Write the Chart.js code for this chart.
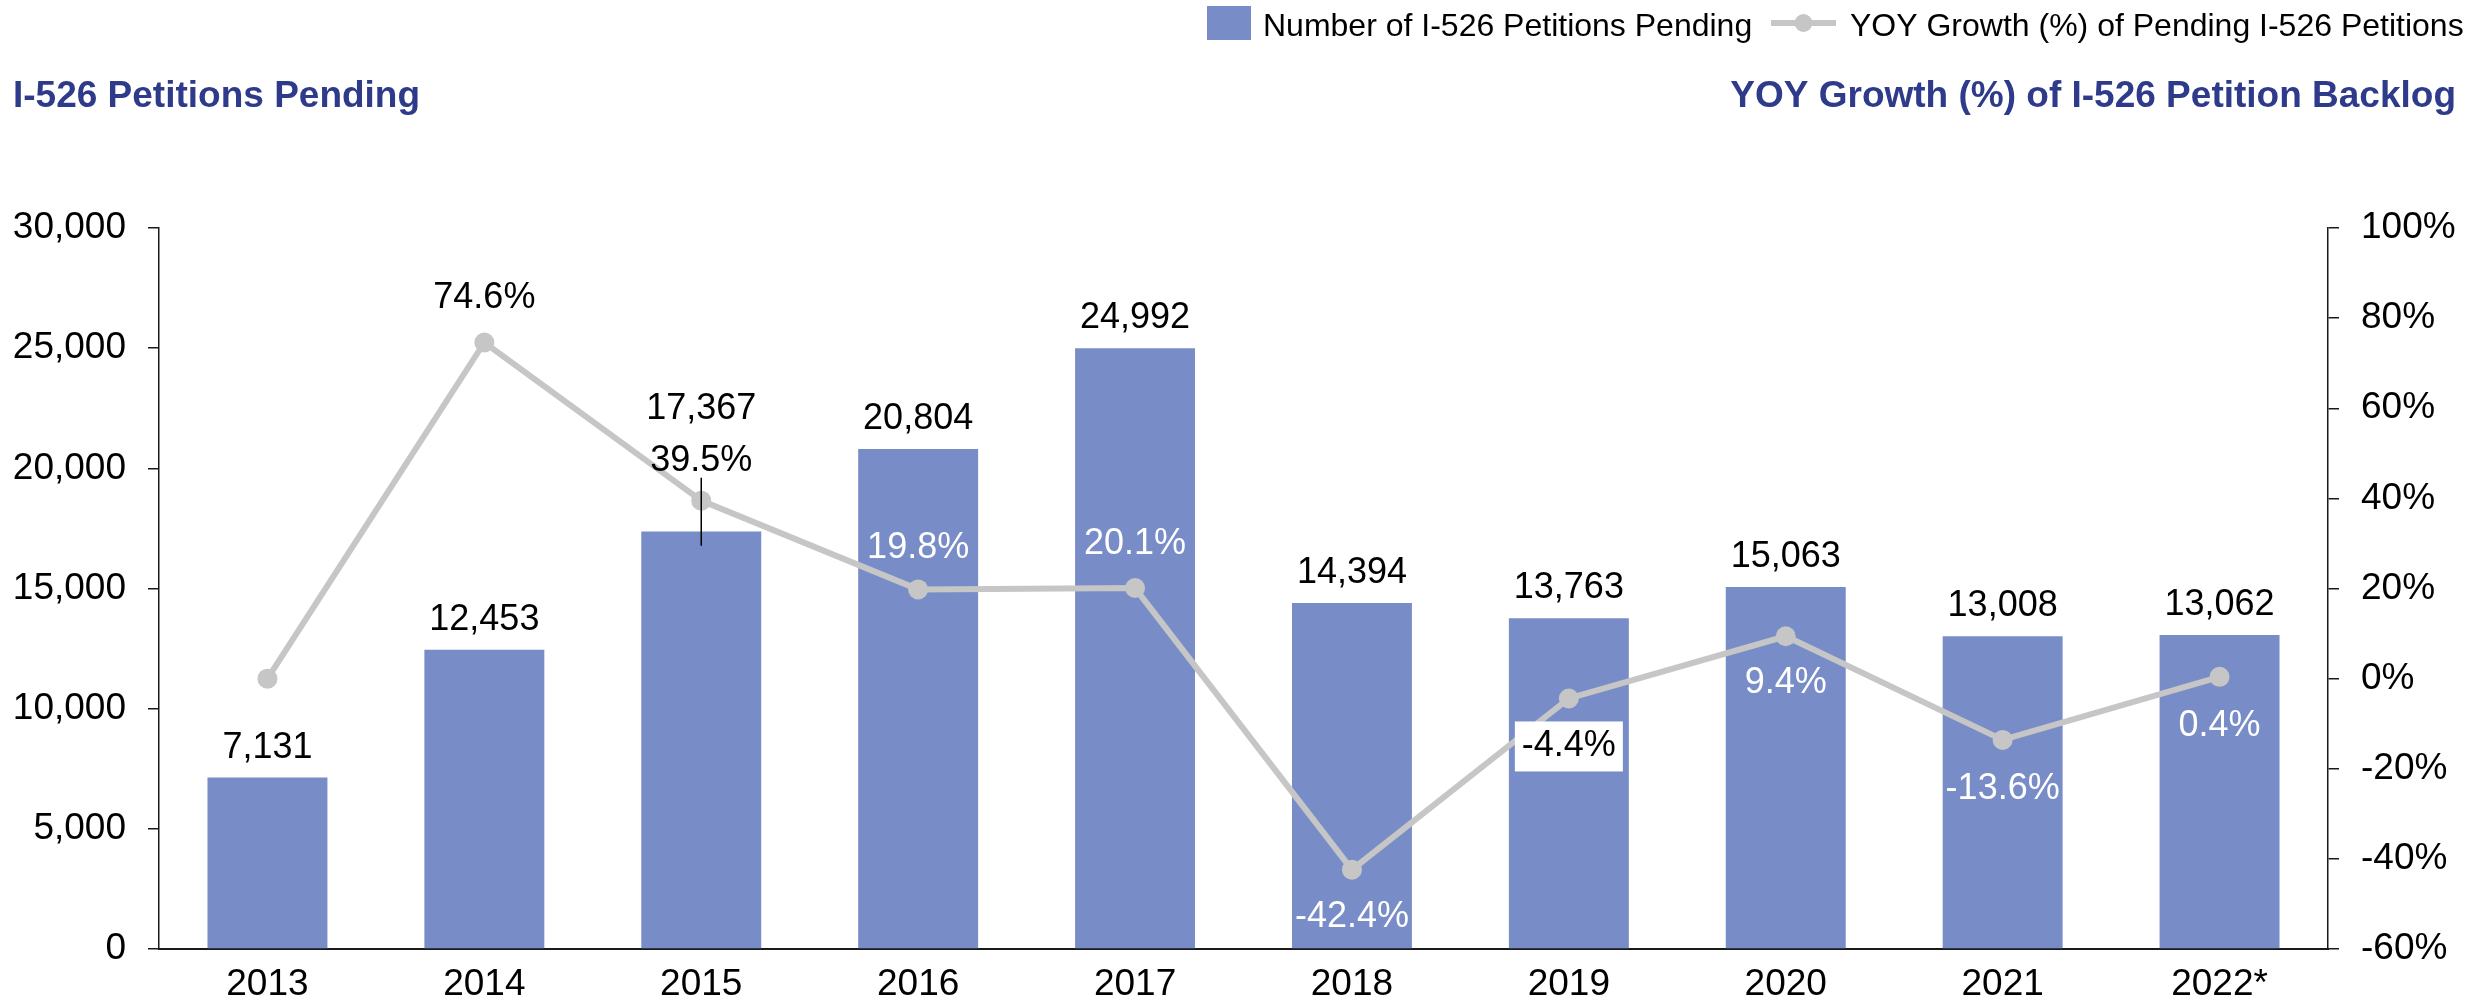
<!DOCTYPE html>
<html>
<head>
<meta charset="utf-8">
<title>I-526 Petitions Pending</title>
<script src="https://cdn.jsdelivr.net/npm/chart.js@4.4.1/dist/chart.umd.min.js"></script>
<style>
  html, body { margin: 0; padding: 0; background: #fff; }
  #wrap { width: 2481px; height: 1003px; position: relative; }
</style>
</head>
<body>
<div id="wrap"><canvas id="chart" width="2481" height="1003"></canvas></div>
<script>
// --- data ---
const years = ['2013', '2014', '2015', '2016', '2017', '2018', '2019', '2020', '2021', '2022*'];
const pendingPetitions = [7131, 12453, 17367, 20804, 24992, 14394, 13763, 15063, 13008, 13062];
const yoyGrowth = [0, 74.6, 39.5, 19.8, 20.1, -42.4, -4.4, 9.4, -13.6, 0.4];

const leftTicks = [0, 5000, 10000, 15000, 20000, 25000, 30000];
const rightTicks = [-60, -40, -20, 0, 20, 40, 60, 80, 100];

const BAR_COLOR = '#788cc7';
const LINE_COLOR = '#c6c6c6';
const TITLE_COLOR = '#2e3a8a';
const FONT = "'Liberation Sans', Arial, sans-serif";

// label placement (style only): offset of text centre from the mark, and colour
const barLabelOffset = i => (i === 2 ? -123 : -30);
const lineLabelStyle = [
  null,
  { dy: -44, color: '#000' },
  { dy: -40, color: '#000', leader: true },
  { dy: -41, color: '#fff' },
  { dy: -44, color: '#fff' },
  { dy: 47, color: '#fff' },
  { dy: 48, color: '#000', box: true },
  { dy: 47, color: '#fff' },
  { dy: 49, color: '#fff' },
  { dy: 49, color: '#fff' }
];

const fmtNum = v => v.toLocaleString('en-US');
const fmtPct = v => v.toFixed(1) + '%';

// Titles, legend and data labels
const decorPlugin = {
  id: 'decor',
  afterDraw(chart) {
    const ctx = chart.ctx;
    ctx.save();

    // axis titles
    ctx.fillStyle = TITLE_COLOR;
    ctx.font = `bold 37px ${FONT}`;
    ctx.textBaseline = 'alphabetic';
    ctx.textAlign = 'left';
    ctx.fillText('I-526 Petitions Pending', 13, 107);
    ctx.textAlign = 'right';
    ctx.fillText('YOY Growth (%) of I-526 Petition Backlog', 2456, 107);

    // legend
    ctx.fillStyle = BAR_COLOR;
    ctx.fillRect(1207, 6, 44, 34);
    ctx.fillStyle = '#000';
    ctx.font = `32px ${FONT}`;
    ctx.textAlign = 'left';
    ctx.fillText('Number of I-526 Petitions Pending', 1263, 36);
    ctx.strokeStyle = LINE_COLOR;
    ctx.lineWidth = 6;
    ctx.beginPath();
    ctx.moveTo(1771, 23);
    ctx.lineTo(1836, 23);
    ctx.stroke();
    ctx.fillStyle = LINE_COLOR;
    ctx.beginPath();
    ctx.arc(1803.5, 23, 9, 0, Math.PI * 2);
    ctx.fill();
    ctx.fillStyle = '#000';
    ctx.fillText('YOY Growth (%) of Pending I-526 Petitions', 1850, 36);

    // bar value labels
    ctx.font = `36px ${FONT}`;
    ctx.textAlign = 'center';
    ctx.textBaseline = 'middle';
    const barMeta = chart.getDatasetMeta(1);
    barMeta.data.forEach((bar, i) => {
      ctx.fillStyle = '#000';
      ctx.fillText(fmtNum(pendingPetitions[i]), bar.x, bar.y + barLabelOffset(i));
    });

    // line value labels
    const lineMeta = chart.getDatasetMeta(0);
    lineMeta.data.forEach((pt, i) => {
      const st = lineLabelStyle[i];
      if (!st) return;
      const text = fmtPct(yoyGrowth[i]);
      const y = pt.y + st.dy;
      if (st.leader) {
        ctx.strokeStyle = '#000';
        ctx.lineWidth = 1.5;
        ctx.beginPath();
        ctx.moveTo(pt.x, pt.y - 23);
        ctx.lineTo(pt.x, pt.y + 45);
        ctx.stroke();
      }
      if (st.box) {
        ctx.fillStyle = '#fff';
        ctx.fillRect(pt.x - 54, y - 25, 108, 50);
      }
      ctx.fillStyle = st.color;
      ctx.fillText(text, pt.x, y);
    });

    ctx.restore();
  }
};

new Chart(document.getElementById('chart'), {
  data: {
    labels: years,
    datasets: [
      {
        type: 'line',
        label: 'YOY Growth (%) of Pending I-526 Petitions',
        data: yoyGrowth,
        yAxisID: 'y1',
        borderColor: LINE_COLOR,
        backgroundColor: LINE_COLOR,
        borderWidth: 6,
        pointRadius: 10,
        pointHoverRadius: 10,
        pointBackgroundColor: LINE_COLOR,
        pointBorderWidth: 0,
        tension: 0,
        order: 0
      },
      {
        type: 'bar',
        label: 'Number of I-526 Petitions Pending',
        data: pendingPetitions,
        yAxisID: 'y',
        backgroundColor: BAR_COLOR,
        barPercentage: 0.553,
        categoryPercentage: 1.0,
        order: 1
      }
    ]
  },
  options: {
    responsive: false,
    animation: false,
    devicePixelRatio: 1,
    layout: { padding: { top: 228, left: 0, right: 0, bottom: 0 } },
    plugins: {
      legend: { display: false },
      tooltip: { enabled: false }
    },
    scales: {
      x: {
        grid: { display: false, drawTicks: false },
        border: { display: true, color: '#1a1a1a', width: 2 },
        ticks: { color: '#000', font: { family: FONT, size: 37 }, padding: 14, maxRotation: 0 },
        afterFit: s => { s.height = 54; }
      },
      y: {
        position: 'left',
        min: 0,
        max: 30000,
        afterBuildTicks: s => { s.ticks = leftTicks.map(v => ({ value: v })); },
        grid: { drawOnChartArea: false, drawTicks: true, tickLength: 11, color: '#1a1a1a', lineWidth: 1.5 },
        border: { display: true, color: '#1a1a1a', width: 1.5 },
        ticks: { color: '#000', font: { family: FONT, size: 37 }, padding: 22, callback: v => fmtNum(v) },
        afterFit: s => { s.width = 159; }
      },
      y1: {
        position: 'right',
        min: -60,
        max: 100,
        afterBuildTicks: s => { s.ticks = rightTicks.map(v => ({ value: v })); },
        grid: { drawOnChartArea: false, drawTicks: true, tickLength: 11, color: '#1a1a1a', lineWidth: 1.5 },
        border: { display: true, color: '#1a1a1a', width: 1.5 },
        ticks: { color: '#000', font: { family: FONT, size: 37 }, padding: 22, callback: v => v + '%' },
        afterFit: s => { s.width = 153; }
      }
    }
  },
  plugins: [decorPlugin]
});
</script>
</body>
</html>
